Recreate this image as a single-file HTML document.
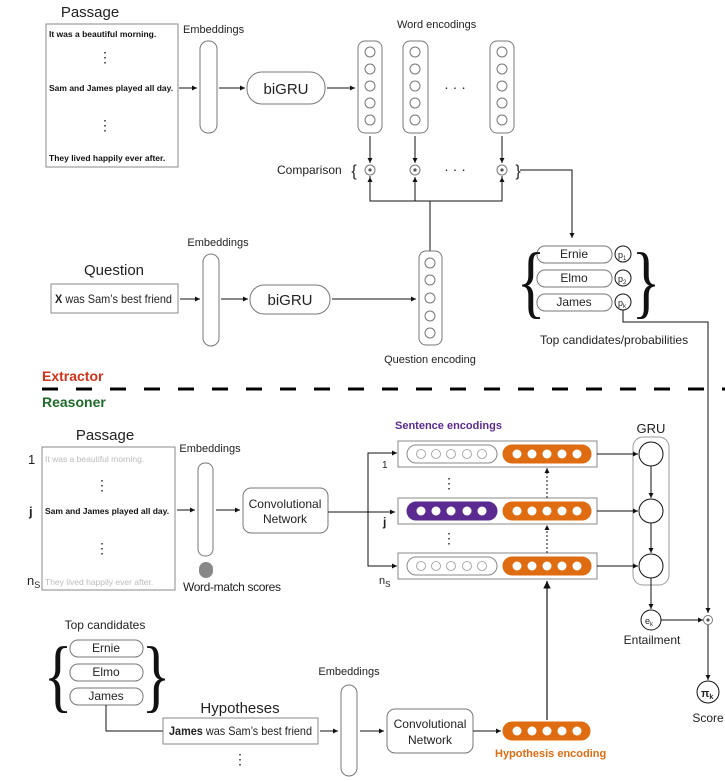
<!DOCTYPE html>
<html><head><meta charset="utf-8"><style>
html,body{margin:0;padding:0;background:#fff}
svg{display:block;font-family:"Liberation Sans",sans-serif}
</style></head><body>
<svg width="725" height="781" viewBox="0 0 725 781" xmlns="http://www.w3.org/2000/svg">
<defs>
<marker id="a" viewBox="0 0 6 6" refX="6" refY="3" markerWidth="5" markerHeight="5" orient="auto"><path d="M0,0L6,3L0,6z" fill="#111"/></marker>
</defs>
<g fill="none" stroke="#111" stroke-width="1">
<rect x="46" y="24" width="132" height="143" stroke="#888" fill="#fff"/>
<rect x="200" y="41" width="17" height="92" rx="8" stroke="#777"/>
<line x1="179" y1="88" x2="197" y2="88" marker-end="url(#a)"/>
<line x1="219" y1="88" x2="245" y2="88" marker-end="url(#a)"/>
<rect x="247" y="72" width="78" height="32" rx="15" stroke="#777"/>
<line x1="327" y1="88" x2="355" y2="88" marker-end="url(#a)"/>
<rect x="358" y="41" width="24" height="92" rx="7" stroke="#777"/>
<rect x="403" y="41" width="25" height="92" rx="7" stroke="#777"/>
<rect x="490" y="41" width="24" height="92" rx="7" stroke="#777"/>
<g stroke="#777">
<circle cx="370" cy="52" r="5"/><circle cx="370" cy="69" r="5"/><circle cx="370" cy="86" r="5"/><circle cx="370" cy="103" r="5"/><circle cx="370" cy="120" r="5"/>
<circle cx="415" cy="52" r="5"/><circle cx="415" cy="69" r="5"/><circle cx="415" cy="86" r="5"/><circle cx="415" cy="103" r="5"/><circle cx="415" cy="120" r="5"/>
<circle cx="502" cy="52" r="5"/><circle cx="502" cy="69" r="5"/><circle cx="502" cy="86" r="5"/><circle cx="502" cy="103" r="5"/><circle cx="502" cy="120" r="5"/>
</g>
<line x1="370" y1="136" x2="370" y2="163" marker-end="url(#a)"/>
<line x1="415" y1="136" x2="415" y2="163" marker-end="url(#a)"/>
<line x1="502" y1="136" x2="502" y2="163" marker-end="url(#a)"/>
<g stroke="#777"><circle cx="370" cy="170" r="5"/><circle cx="415" cy="170" r="5"/><circle cx="502" cy="170" r="5"/></g>
<g fill="#555" stroke="none"><circle cx="370" cy="170" r="1.6"/><circle cx="415" cy="170" r="1.6"/><circle cx="502" cy="170" r="1.6"/></g>
<polyline points="370,176 370,201 502,201 502,176"/>
<line x1="370" y1="201" x2="370" y2="177" marker-end="url(#a)"/>
<line x1="415" y1="201" x2="415" y2="177" marker-end="url(#a)"/>
<line x1="502" y1="201" x2="502" y2="177" marker-end="url(#a)"/>
<line x1="430" y1="201" x2="430" y2="251"/>
<polyline points="520,170 572,170 572,238" marker-end="url(#a)"/>
<g stroke="#777">
<rect x="537" y="246" width="75" height="17" rx="8"/>
<rect x="537" y="270" width="75" height="17" rx="8"/>
<rect x="537" y="294" width="75" height="17" rx="8"/>
</g>
<circle cx="623" cy="254" r="8"/><circle cx="623" cy="278" r="8"/><circle cx="623" cy="302" r="8"/>
<polyline points="623,310 623,322 708,322 708,613" marker-end="url(#a)"/>
<rect x="51" y="284" width="127" height="29" stroke="#888"/>
<rect x="203" y="254" width="16" height="92" rx="8" stroke="#777"/>
<line x1="180" y1="299" x2="200" y2="299" marker-end="url(#a)"/>
<line x1="221" y1="299" x2="248" y2="299" marker-end="url(#a)"/>
<rect x="250" y="285" width="80" height="29" rx="14" stroke="#777"/>
<line x1="332" y1="299" x2="416" y2="299" marker-end="url(#a)"/>
<rect x="419" y="251" width="23" height="94" rx="7" stroke="#777"/>
<g stroke="#777"><circle cx="430" cy="263" r="5"/><circle cx="430" cy="280" r="5"/><circle cx="430" cy="298" r="5"/><circle cx="430" cy="316" r="5"/><circle cx="430" cy="333" r="5"/></g>
<line x1="42" y1="389" x2="725" y2="389" stroke="#000" stroke-width="3" stroke-dasharray="16 18"/>
<rect x="42" y="447" width="133" height="143" stroke="#888"/>
<rect x="198" y="463" width="15" height="93" rx="7" stroke="#777"/>
<rect x="199" y="562" width="14" height="16" rx="7" fill="#888" stroke="none"/>
<line x1="177" y1="510" x2="195" y2="510" marker-end="url(#a)"/>
<line x1="216" y1="510" x2="240" y2="510" marker-end="url(#a)"/>
<rect x="243" y="488" width="85" height="45" rx="8" stroke="#777"/>
<line x1="328" y1="512" x2="395" y2="512" marker-end="url(#a)"/>
<polyline points="368,512 368,453 397,453" marker-end="url(#a)"/>
<polyline points="368,512 368,566 397,566" marker-end="url(#a)"/>
<g stroke="#888">
<rect x="398" y="441" width="199" height="26"/>
<rect x="398" y="498" width="199" height="26"/>
<rect x="398" y="553" width="199" height="26"/>
<rect x="407" y="445" width="90" height="18" rx="9"/>
<rect x="407" y="557" width="90" height="18" rx="9"/>
</g>
<rect x="407" y="502" width="90" height="18" rx="9" fill="#5b2a91" stroke="#5b2a91"/>
<rect x="503" y="445" width="88" height="18" rx="9" fill="#e06c12" stroke="#e06c12"/>
<rect x="503" y="502" width="88" height="18" rx="9" fill="#e06c12" stroke="#e06c12"/>
<rect x="503" y="557" width="88" height="18" rx="9" fill="#e06c12" stroke="#e06c12"/>
<rect x="503" y="722" width="87" height="18" rx="9" fill="#e06c12" stroke="#e06c12"/>
<g stroke="#999" stroke-width="0.8">
<circle cx="421" cy="454" r="4.5"/><circle cx="436" cy="454" r="4.5"/><circle cx="451" cy="454" r="4.5"/><circle cx="467" cy="454" r="4.5"/><circle cx="482" cy="454" r="4.5"/>
<circle cx="421" cy="566" r="4.5"/><circle cx="436" cy="566" r="4.5"/><circle cx="451" cy="566" r="4.5"/><circle cx="467" cy="566" r="4.5"/><circle cx="482" cy="566" r="4.5"/>
</g>
<g fill="#fff" stroke="none">
<circle cx="421" cy="511" r="4.5"/><circle cx="436" cy="511" r="4.5"/><circle cx="451" cy="511" r="4.5"/><circle cx="467" cy="511" r="4.5"/><circle cx="482" cy="511" r="4.5"/>
<circle cx="517" cy="454" r="4.5"/><circle cx="532" cy="454" r="4.5"/><circle cx="547" cy="454" r="4.5"/><circle cx="562" cy="454" r="4.5"/><circle cx="577" cy="454" r="4.5"/>
<circle cx="517" cy="511" r="4.5"/><circle cx="532" cy="511" r="4.5"/><circle cx="547" cy="511" r="4.5"/><circle cx="562" cy="511" r="4.5"/><circle cx="577" cy="511" r="4.5"/>
<circle cx="517" cy="566" r="4.5"/><circle cx="532" cy="566" r="4.5"/><circle cx="547" cy="566" r="4.5"/><circle cx="562" cy="566" r="4.5"/><circle cx="577" cy="566" r="4.5"/>
<circle cx="517" cy="731" r="4.5"/><circle cx="532" cy="731" r="4.5"/><circle cx="547" cy="731" r="4.5"/><circle cx="562" cy="731" r="4.5"/><circle cx="577" cy="731" r="4.5"/>
</g>
<line x1="547" y1="553" x2="547" y2="525" stroke-dasharray="2 2" marker-end="url(#a)"/>
<line x1="547" y1="498" x2="547" y2="468" stroke-dasharray="2 2" marker-end="url(#a)"/>
<line x1="547" y1="720" x2="547" y2="581" stroke="#444" stroke-width="1.5" marker-end="url(#a)"/>
<rect x="633" y="437" width="36" height="148" rx="10" stroke="#999"/>
<circle cx="651" cy="454" r="12"/><circle cx="651" cy="511" r="12"/><circle cx="651" cy="566" r="12"/>
<line x1="651" y1="466" x2="651" y2="498" marker-end="url(#a)"/>
<line x1="651" y1="523" x2="651" y2="553" marker-end="url(#a)"/>
<line x1="597" y1="454" x2="638" y2="454" marker-end="url(#a)"/>
<line x1="597" y1="511" x2="638" y2="511" marker-end="url(#a)"/>
<line x1="597" y1="566" x2="638" y2="566" marker-end="url(#a)"/>
<line x1="651" y1="578" x2="651" y2="609" marker-end="url(#a)"/>
<circle cx="651" cy="620" r="10"/>
<line x1="661" y1="620" x2="703" y2="620" marker-end="url(#a)"/>
<circle cx="708" cy="620" r="4.5" stroke="#777"/>
<line x1="708" y1="625" x2="708" y2="680" marker-end="url(#a)"/>
<circle cx="708" cy="692" r="11"/>
<g stroke="#777">
<rect x="70" y="640" width="73" height="17" rx="8"/>
<rect x="70" y="664" width="73" height="17" rx="8"/>
<rect x="70" y="688" width="73" height="17" rx="8"/>
</g>
<polyline points="106,705 106,731 163,731"/>
<rect x="163" y="718" width="155" height="26" stroke="#888"/>
<rect x="341" y="685" width="16" height="91" rx="8" stroke="#777"/>
<line x1="320" y1="731" x2="338" y2="731" marker-end="url(#a)"/>
<line x1="360" y1="731" x2="384" y2="731" marker-end="url(#a)"/>
<rect x="387" y="709" width="86" height="44" rx="8" stroke="#777"/>
<line x1="473" y1="731" x2="501" y2="731" marker-end="url(#a)"/>
</g>
<circle cx="708" cy="620" r="1.6" fill="#555"/>
<g fill="#222" font-size="15">
<text x="90" y="17" text-anchor="middle">Passage</text>
<text x="114" y="275" text-anchor="middle">Question</text>
<text x="105" y="440" text-anchor="middle">Passage</text>
<text x="240" y="713" text-anchor="middle">Hypotheses</text>
<text x="286" y="94" text-anchor="middle">biGRU</text>
<text x="290" y="305" text-anchor="middle">biGRU</text>
</g>
<g fill="#222" font-size="11">
<text x="183" y="33">Embeddings</text>
<text x="397" y="28">Word encodings</text>
<text x="218" y="246" text-anchor="middle">Embeddings</text>
<text x="430" y="363" text-anchor="middle">Question encoding</text>
<text x="210" y="452" text-anchor="middle">Embeddings</text>
<text x="349" y="675" text-anchor="middle">Embeddings</text>
</g>
<g fill="#222" font-size="12">
<text x="277" y="174">Comparison</text>
<text x="183" y="591" textLength="98">Word-match scores</text>
<text x="652" y="644" text-anchor="middle">Entailment</text>
<text x="708" y="722" text-anchor="middle">Score</text>
<text x="540" y="344">Top candidates/probabilities</text>
<text x="105" y="629" text-anchor="middle">Top candidates</text>
<text x="574" y="258" text-anchor="middle">Ernie</text>
<text x="574" y="282" text-anchor="middle">Elmo</text>
<text x="574" y="306" text-anchor="middle">James</text>
<text x="106" y="652" text-anchor="middle">Ernie</text>
<text x="106" y="676" text-anchor="middle">Elmo</text>
<text x="106" y="700" text-anchor="middle">James</text>
<text x="285" y="508" text-anchor="middle">Convolutional</text>
<text x="285" y="523" text-anchor="middle">Network</text>
<text x="430" y="728" text-anchor="middle">Convolutional</text>
<text x="430" y="744" text-anchor="middle">Network</text>
<text x="55" y="303" textLength="117" lengthAdjust="spacingAndGlyphs"><tspan font-weight="bold">X</tspan> was Sam’s best friend</text>
<text x="169" y="735" textLength="143" lengthAdjust="spacingAndGlyphs"><tspan font-weight="bold">James</tspan> was Sam’s best friend</text>
<text x="651" y="433" text-anchor="middle" font-size="13">GRU</text>
</g>
<g font-size="9" fill="#222">
<text x="618" y="258">p<tspan font-size="6" dy="2">1</tspan></text>
<text x="618" y="282">p<tspan font-size="6" dy="2">2</tspan></text>
<text x="618" y="306">p<tspan font-size="6" dy="2">k</tspan></text>
<text x="645" y="624">e<tspan font-size="6" dy="2">k</tspan></text>
<text x="701" y="697" font-weight="bold" font-size="11">π<tspan font-size="7" dy="2">k</tspan></text>
</g>
<g font-size="8.5" font-weight="bold" fill="#111">
<text x="49" y="37">It was a beautiful morning.</text>
<text x="49" y="91">Sam and James played all day.</text>
<text x="49" y="161">They lived happily ever after.</text>
<text x="45" y="514">Sam and James played all day.</text>
</g>
<g font-size="8.5" fill="#bbb">
<text x="45" y="462">It was a beautiful morning.</text>
<text x="45" y="585">They lived happily ever after.</text>
</g>
<g font-size="13" fill="#222">
<text x="28" y="464">1</text><text x="29" y="516" font-weight="bold">j</text>
<text x="27" y="585">n<tspan font-size="9" dy="3">S</tspan></text>
<text x="382" y="468" font-size="10">1</text>
<text x="383" y="526" font-size="12" font-weight="bold">j</text>
<text x="379" y="584" font-size="11">n<tspan font-size="8" dy="3">S</tspan></text>
</g>
<g fill="#222" font-size="14" text-anchor="middle">
<text x="105" y="62">⋮</text><text x="105" y="130">⋮</text>
<text x="102" y="490">⋮</text><text x="102" y="553">⋮</text>
<text x="449" y="488">⋮</text><text x="449" y="543">⋮</text>
<text x="240" y="764">⋮</text>
<text x="455" y="92" font-size="14">· · ·</text>
<text x="455" y="174" font-size="14">· · ·</text>
<text x="354" y="176" font-size="16">{</text>
<text x="518" y="176" font-size="16">}</text>
</g>
<g fill="#111" font-family="Liberation Serif, serif" font-size="80" text-anchor="middle">
<text transform="translate(531,308) scale(0.75,1)">{</text>
<text transform="translate(646,308) scale(0.75,1)">}</text>
<text transform="translate(58,702) scale(0.75,1)">{</text>
<text transform="translate(156,702) scale(0.75,1)">}</text>
</g>
<text x="42" y="381" font-size="14" font-weight="bold" fill="#d0321a">Extractor</text>
<text x="42" y="407" font-size="14" font-weight="bold" fill="#1e6b2a">Reasoner</text>
<text x="395" y="429" font-size="11" font-weight="bold" fill="#5b2a91">Sentence encodings</text>
<text x="495" y="757" font-size="11" font-weight="bold" fill="#e06c12">Hypothesis encoding</text>
</svg>
</body></html>
